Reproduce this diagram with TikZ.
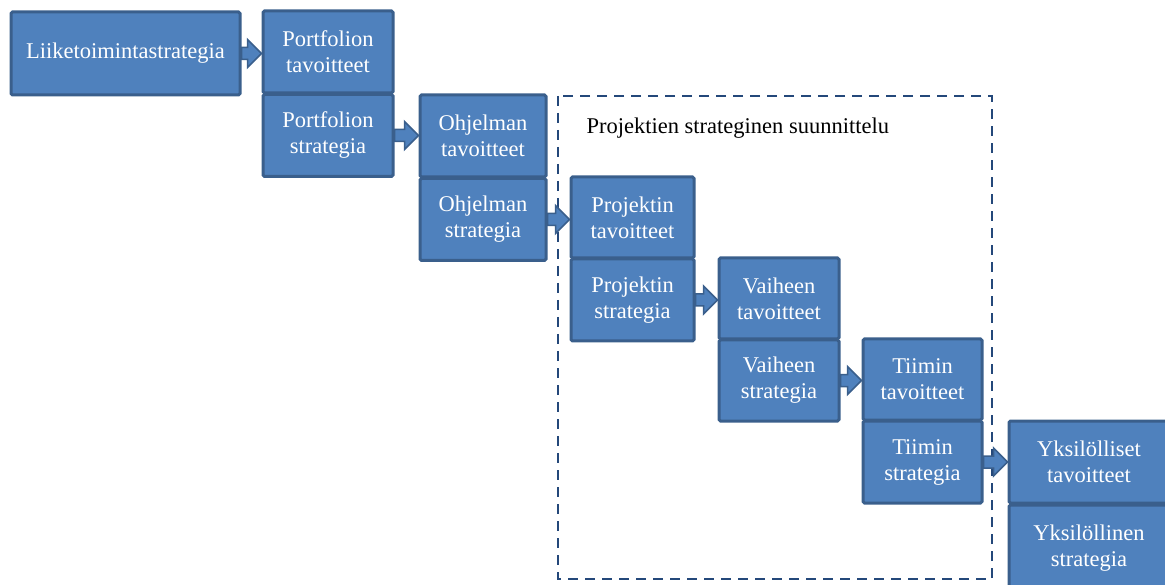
\documentclass[tikz,border=0pt]{standalone}
\usepackage{fontspec}
\setmainfont{Liberation Serif}
\usetikzlibrary{calc}
\definecolor{boxfill}{HTML}{4F81BD}
\definecolor{boxline}{HTML}{3A5F8C}
\definecolor{dashline}{HTML}{24487A}
\tikzset{
  blk/.style={draw=boxline, fill=boxfill, line width=3pt, rounded corners=1.5pt,
    text=white, align=center, inner sep=0pt,
    font=\fontsize{22.5}{26}\selectfont},
  arr/.style={draw=boxline, fill=boxfill, line width=1.5pt, line join=miter},
}
\newcommand{\blockarrow}[2]{%
  \path let \p1=(#1.east), \p2=(#2.west) in
    coordinate (s) at (\x1,\y1) coordinate (e) at (\x2,\y1);
  \draw[arr] ($(s)+(0,6)$) -- ($(e)+(-14,6)$) -- ($(e)+(-14,14)$) -- (e)
    -- ($(e)+(-14,-14)$) -- ($(e)+(-14,-6)$) -- ($(s)+(0,-6)$) -- cycle;
}
\begin{document}
\begin{tikzpicture}[x=1pt,y=-1pt]
\useasboundingbox (0,0) rectangle (1165,585);
% dashed frame
\draw[dashline, line width=2.8pt, dash pattern=on 10pt off 7pt] (558,96) rectangle (992,579);
\node[anchor=west, font=\fontsize{22.5}{26}\selectfont] (lbl) at (583,128) {Projektien strateginen suunnittelu};
% boxes
\node[blk, minimum width=229, minimum height=83] (liike) at (125.5,53.5) {Liiketoimintastrategia};
\node[blk, minimum width=130, minimum height=82] (pt) at (328,52) {Portfolion\\tavoitteet};
\node[blk, minimum width=130, minimum height=82] (ps) at (328,135.5) {Portfolion\\strategia};
\node[blk, minimum width=126, minimum height=82] (ot) at (483,136) {Ohjelman\\tavoitteet};
\node[blk, minimum width=126, minimum height=82] (os) at (483,219.5) {Ohjelman\\strategia};
\node[blk, minimum width=123, minimum height=81] (prt) at (632.5,217.5) {Projektin\\tavoitteet};
\node[blk, minimum width=123, minimum height=82] (prs) at (632.5,300) {Projektin\\strategia};
\node[blk, minimum width=120, minimum height=81] (vt) at (779,298.5) {Vaiheen\\tavoitteet};
\node[blk, minimum width=120, minimum height=81] (vs) at (779,380.5) {Vaiheen\\strategia};
\node[blk, minimum width=119, minimum height=81] (tt) at (922.5,379.5) {Tiimin\\tavoitteet};
\node[blk, minimum width=119, minimum height=82] (ts) at (922.5,462) {Tiimin\\strategia};
\node[blk, minimum width=160, minimum height=82] (yt) at (1089,462) {Yksilölliset\\tavoitteet};
\node[blk, minimum width=160, minimum height=86] (ys) at (1089,548) {Yksilöllinen\\strategia};
% arrows
\blockarrow{liike}{pt}
\blockarrow{ps}{ot}
\blockarrow{os}{prt}
\blockarrow{prs}{vt}
\blockarrow{vs}{tt}
\blockarrow{ts}{yt}
\end{tikzpicture}
\end{document}
